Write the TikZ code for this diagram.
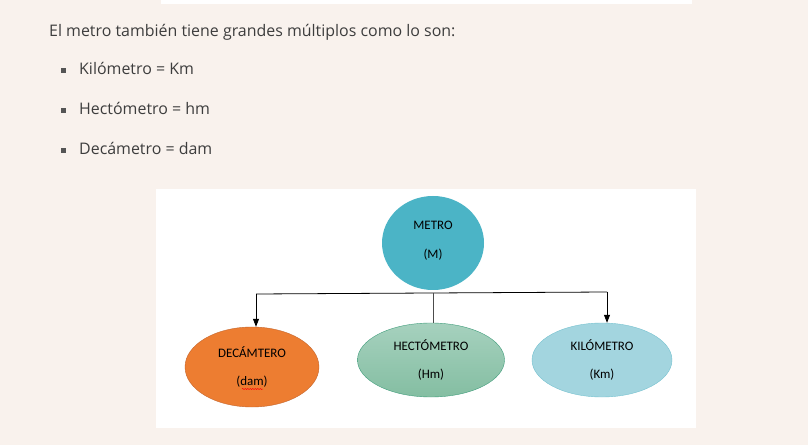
\documentclass[tikz,border=0pt]{standalone}
\usepackage{fontspec}
\setmainfont{Open Sans}
\newfontfamily\diagfont{Carlito}
\usetikzlibrary{shapes.geometric,arrows.meta,decorations.pathmorphing}
\definecolor{pagebg}{HTML}{F9F2ED}
\definecolor{bodytext}{HTML}{3D3D3D}
\definecolor{bulletgray}{HTML}{555555}
\definecolor{metrofill}{HTML}{4BB4C6}
\definecolor{decafill}{HTML}{ED7D31}
\definecolor{decaline}{HTML}{C4652C}
\definecolor{hectotop}{HTML}{A6D1BE}
\definecolor{hectobot}{HTML}{84BEA2}
\definecolor{hectoline}{HTML}{3E9C7A}
\definecolor{kilofill}{HTML}{A3D5DF}
\definecolor{kiloline}{HTML}{76C2D0}
\tikzset{
  unit/.style={ellipse, inner sep=0, align=center,
    font=\diagfont\fontsize{13}{29}\selectfont},
  link/.style={line width=0.8pt},
  tip/.style={link, -{Triangle[width=6bp,length=8bp]}}
}
\begin{document}
\begin{tikzpicture}[x=1bp,y=-1bp]
\fill[pagebg] (0,0) rectangle (808,445);
\useasboundingbox (0,0) rectangle (808,445);
\fill[white] (161,0) rectangle (692,4);
% texto
\node[anchor=base west, inner sep=0, text=bodytext,
  font=\fontsize{16}{19}\selectfont] (intro) at (49,37)
  {El metro también tiene grandes múltiplos como lo son:};
\foreach \lbl/\yy [count=\i] in {Kilómetro = Km/75, Hectómetro = hm/115, Decámetro = dam/155} {
  \fill[bulletgray] (61,\yy-7) rectangle +(5,5);
  \node[anchor=base west, inner sep=0, text=bodytext,
    font=\fontsize{16}{19}\selectfont] (item\i) at (79,\yy) {\lbl};
}
% diagrama
\fill[white] (156,189) rectangle (696,428);
\node[unit, fill=metrofill, minimum width=102bp, minimum height=94bp] (metro) at (433,243) {METRO\\(M)\\[-23bp]};
\node[unit, fill=decafill, draw=decaline, minimum width=134bp, minimum height=80bp] (deca) at (252,367) {DECÁMTERO\\(dam)};
\node[unit, top color=hectotop, bottom color=hectobot, draw=hectoline, minimum width=147bp, minimum height=74bp] (hecto) at (431,360) {HECTÓMETRO\\(Hm)};
\node[unit, fill=kilofill, draw=kiloline, minimum width=140bp, minimum height=74bp] (kilo) at (602,360) {KILÓMETRO\\(Km)};
\draw[red, line width=0.5pt, decorate, decoration={snake, amplitude=0.6bp, segment length=2.5bp}]
  ([shift={(-10,22)}]deca.center) -- ([shift={(11,22)}]deca.center);
\coordinate (bl) at (256,294);
\coordinate (bm) at (433,293);
\coordinate (br) at (607,292);
\draw[link] (bl) -- (br);
\draw[tip] (bl) -- (bl |- deca.north);
\draw[link, black!70] (bm) -- (bm |- hecto.north);
\draw[tip] (br) -- (br |- kilo.north);
\end{tikzpicture}
\end{document}
